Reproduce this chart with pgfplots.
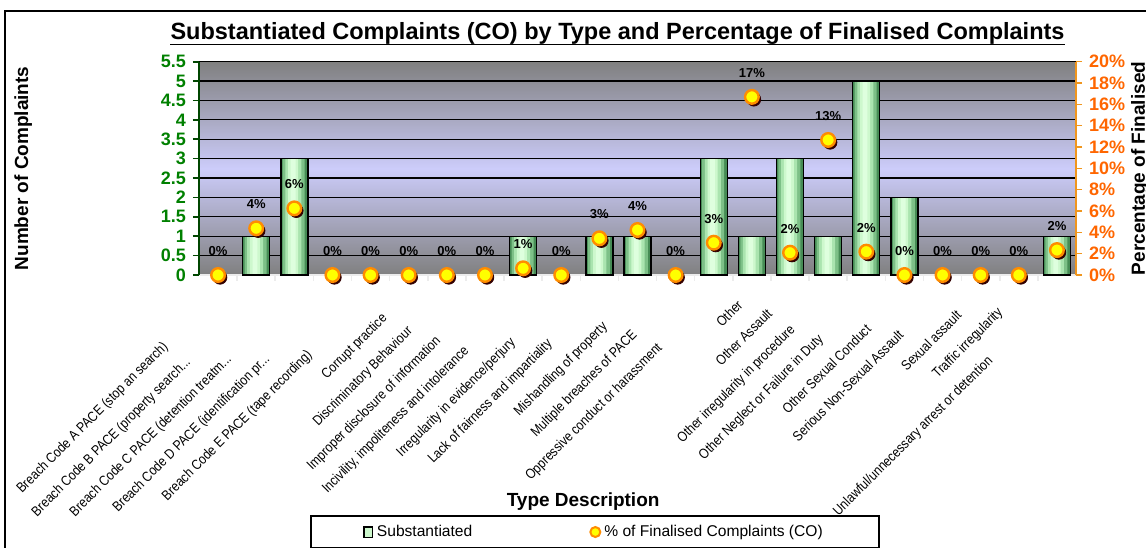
\documentclass[border=0pt]{standalone}
\usepackage{fontspec}
\setmainfont{Liberation Sans}
\newfontfamily\narrowfont[FakeStretch=0.86]{Liberation Sans}
\usepackage{pgfplots}
\usepackage{pgfplotstable}
\pgfplotsset{compat=1.18}

\definecolor{bgGray}{RGB}{128,128,128}
\definecolor{bgLav}{RGB}{204,204,250}
\definecolor{axGreen}{RGB}{0,128,0}
\definecolor{axLeft}{RGB}{0,70,0}
\definecolor{axOrange}{RGB}{255,102,0}
\definecolor{lineOrange}{RGB}{240,150,30}
\definecolor{barA}{RGB}{70,140,85}
\definecolor{barB}{RGB}{125,192,135}
\definecolor{barC}{RGB}{170,228,175}
\definecolor{barD}{RGB}{205,248,205}
\definecolor{barE}{RGB}{222,255,222}
\definecolor{dotFill}{RGB}{255,255,0}
\definecolor{dotEdge}{RGB}{255,140,0}
\newcommand{\dd}{.\kern0pt.\kern0pt.}

% Substantiated complaints (categories with a bar)
\pgfplotstableread{
x y
2 1
3 3
9 1
11 1
12 1
14 3
15 1
16 3
17 1
18 5
19 2
23 1
}\bardata
% Percentage of finalised complaints
\pgfplotstableread{
x p
1 0
2 4.38
3 6.25
4 0
5 0
6 0
7 0
8 0
9 0.63
10 0
11 3.44
12 4.22
13 0
14 3.03
15 16.7
16 2.09
17 12.66
18 2.19
19 0
20 0
21 0
22 0
23 2.34
}\pctdata

\begin{document}
\begin{tikzpicture}
% chart frame
\draw[line width=1pt] (2.5pt,-20pt) -- (2.5pt,268pt) -- (600pt,268pt);
% title
\node[inner sep=0pt, anchor=base, font=\bfseries\fontsize{11.75}{14}\selectfont] (T) at (308.75pt,253.5pt)
  {Substantiated Complaints (CO) by Type and Percentage of Finalised Complaints};
\draw[line width=0.9pt] ([yshift=-2.3pt]T.base west) -- ([yshift=-2.3pt]T.base east);

\begin{axis}[
  at={(99.5pt,136pt)}, anchor=south west,
  scale only axis, width=438.5pt, height=106.65pt,
  xmin=0.5, xmax=23.5, ymin=0, ymax=5.5,
  enlargelimits=false,
  axis x line*=bottom, axis y line*=left,
  x axis line style={white!85!gray, line width=0.8pt, -},
  y axis line style={axLeft, line width=1pt, -},
  axis background/.style={shade, top color=bgGray, bottom color=bgGray, middle color=bgLav},
  ymajorgrids, grid style={black, line width=0.6pt},
  ytick={0,0.5,1,1.5,2,2.5,3,3.5,4,4.5,5,5.5},
  tick align=outside,
  major tick length=3pt,
  ytick style={axLeft, line width=0.8pt},
  yticklabel style={font=\bfseries\fontsize{9}{10}\selectfont, text=axGreen, /pgf/number format/assume math mode=true},
  xtick={1,2,3,4,5,6,7,8,9,10,11,12,13,14,15,16,17,18,19,20,21,22,23},
  major x tick style={draw=none},
  minor xtick={1.5,2.5,3.5,4.5,5.5,6.5,7.5,8.5,9.5,10.5,11.5,12.5,13.5,14.5,15.5,16.5,17.5,18.5,19.5,20.5,21.5,22.5},
  minor x tick style={draw=white!85!gray, line width=0.8pt},
  minor tick length=3pt,
  xticklabels={
    {Breach Code A PACE (stop an search)\hspace*{33pt}},
    {Breach Code B PACE (property search\dd\hspace*{44pt}},
    {Breach Code C PACE (detention treatm\dd\hspace*{42pt}},
    {Breach Code D PACE (identification pr\dd\hspace*{42pt}},
    {Breach Code E PACE (tape recording)\hspace*{39pt}},
    {Corrupt practice\hspace*{13pt}},
    {Discriminatory Behaviour\hspace*{22pt}},
    {Improper disclosure of information\hspace*{29pt}},
    {Incivility, impoliteness and intolerance\hspace*{36pt}},
    {Irregularity in evidence/perjury\hspace*{30pt}},
    {Lack of fairness and impartiality\hspace*{31pt}},
    {Mishandling of property\hspace*{19pt}},
    {Multiple breaches of PACE\hspace*{25pt}},
    {Oppressive conduct or harassment\hspace*{34pt}},
    {Other\hspace*{4pt}},
    {Other Assault\hspace*{10pt}},
    {Other irregularity in procedure\hspace*{21pt}},
    {Other Neglect or Failure in Duty\hspace*{28pt}},
    {Other Sexual Conduct\hspace*{21pt}},
    {Serious Non-Sexual Assault\hspace*{25pt}},
    {Sexual assault\hspace*{11pt}},
    {Traffic irregularity\hspace*{9pt}},
    {Unlawful/unnecessary arrest or detention\hspace*{43pt}}
  },
  xticklabel style={xshift=-5pt, yshift=-6pt, rotate=45, anchor=north east, inner sep=0pt,
    font=\narrowfont\fontsize{7}{8}\selectfont},
  xlabel={Type Description},
  xlabel style={at={(axis description cs:0.438,-1.06)}, anchor=center,
    font=\bfseries\fontsize{9.5}{11}\selectfont},
  ylabel={Number of Complaints},
  ylabel style={at={(axis description cs:-0.2005,0.5)}, anchor=center,
    font=\bfseries\fontsize{9.5}{11}\selectfont},
  legend columns=2,
  legend style={at={(0.4515,-1.205)}, anchor=center, draw=black, line width=1pt,
    font=\fontsize{7.8}{9}\selectfont, inner xsep=26pt, inner ysep=2.5pt,
    /tikz/every even column/.append style={column sep=57pt}},
]
% bars drawn in layers to give them the rounded, shaded look
\addplot[ybar, bar width=13.5pt, bar shift=0pt, fill=barA, draw=none,
  legend image code/.code={\draw[draw=black, line width=0.7pt, fill=barD] (0pt,-2.6pt) rectangle (4.2pt,2.6pt);}]
  table[x=x, y=y] {\bardata};
\addlegendentry{Substantiated}
\addplot[forget plot, ybar, bar width=11pt, bar shift=-0.3pt, fill=barB, draw=none] table[x=x, y=y] {\bardata};
\addplot[forget plot, ybar, bar width=8pt, bar shift=-0.5pt, fill=barC, draw=none] table[x=x, y=y] {\bardata};
\addplot[forget plot, ybar, bar width=5pt, bar shift=-0.6pt, fill=barD, draw=none] table[x=x, y=y] {\bardata};
\addplot[forget plot, ybar, bar width=2.4pt, bar shift=-0.6pt, fill=barE, draw=none] table[x=x, y=y] {\bardata};
\addplot[forget plot, ybar, bar width=13.5pt, bar shift=0pt, fill=none, draw=black, line width=0.7pt] table[x=x, y=y] {\bardata};
\addlegendimage{only marks, mark=*, mark size=2.5pt, mark options={fill=dotFill, draw=dotEdge, line width=1pt}}
\addlegendentry{\% of Finalised Complaints (CO)}
\end{axis}

\begin{axis}[
  at={(99.5pt,136pt)}, anchor=south west,
  scale only axis, width=438.5pt, height=106.65pt,
  xmin=0.5, xmax=23.5, ymin=0, ymax=20,
  enlargelimits=false, clip=false,
  axis x line=none, axis y line*=right,
  y axis line style={lineOrange, line width=1pt, -},
  ytick={0,2,4,6,8,10,12,14,16,18,20},
  tick align=outside, major tick length=3pt,
  ytick style={lineOrange, line width=0.8pt},
  yticklabel={\pgfmathprintnumber{\tick}\%},
  yticklabel style={font=\bfseries\fontsize{9}{10}\selectfont, text=axOrange, /pgf/number format/assume math mode=true},
]
% shadow of the markers
\addplot[only marks, mark=*, mark size=3.4pt, mark options={fill=black!80!red, draw=black!80!red, xshift=1pt, yshift=-1.2pt}]
  table[x=x, y=p] {\pctdata};
\addplot[only marks, mark=*, mark size=3.4pt, mark options={fill=dotFill, draw=dotEdge, line width=1.2pt},
  point meta=y, nodes near coords={\pgfmathprintnumber[fixed,precision=0]{\pgfplotspointmeta}\%},
  every node near coord/.append style={anchor=center, yshift=12pt, text=black,
    font=\bfseries\fontsize{6.5}{7}\selectfont, /pgf/number format/assume math mode=true}]
  table[x=x, y=p] {\pctdata};
\end{axis}

\node[rotate=90, align=center, font=\bfseries\fontsize{9.5}{11.4}\selectfont] at (575.7pt,189.3pt)
  {Percentage of Finalised\\Complaints (CO)};

\pgfresetboundingbox
\useasboundingbox (0pt,0pt) rectangle (573pt,273.5pt);
\end{tikzpicture}
\end{document}
